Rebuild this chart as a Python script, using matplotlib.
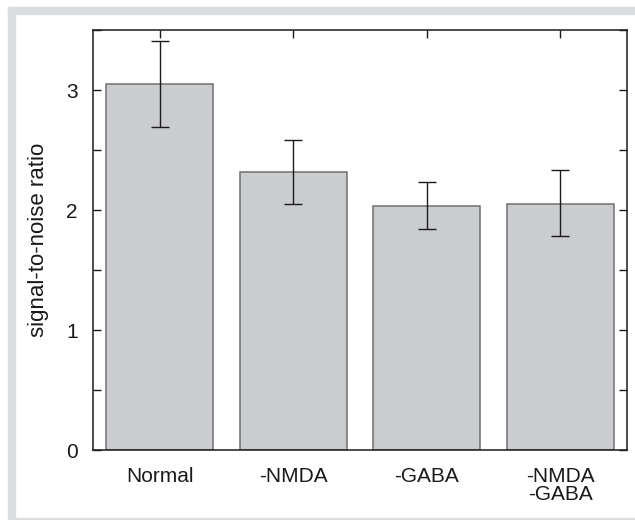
import matplotlib
matplotlib.use("Agg")
import matplotlib.pyplot as plt
from matplotlib.patches import Rectangle
from matplotlib.ticker import MultipleLocator

categories = ["Normal", "-NMDA", "-GABA", "-NMDA\n-GABA"]
values = [3.05, 2.32, 2.03, 2.05]
err_low = [0.36, 0.27, 0.19, 0.27]
err_high = [0.36, 0.26, 0.20, 0.28]
ylabel = "signal-to-noise ratio"

plt.rcParams['font.family'] = ['Liberation Sans', 'DejaVu Sans']

W, H = 635, 520
fig = plt.figure(figsize=(W / 100, H / 100), dpi=100)

# light gray frame strips
gray = "#dcdddf"
fig.patches.append(Rectangle((8 / W, 0), 7 / W, 513 / H, transform=fig.transFigure, color=gray, zorder=0))
fig.patches.append(Rectangle((8 / W, 506 / H), 627 / W, 7 / H, transform=fig.transFigure, color=gray, zorder=0))
fig.patches.append(Rectangle((8 / W, 0), 627 / W, 2.5 / H, transform=fig.transFigure, color=gray, zorder=0))

ax = fig.add_axes([93 / W, (H - 450) / H, 534 / W, 420 / H])
x = list(range(len(categories)))
ax.bar(x, values, width=0.8, color="#cbcccf", edgecolor="#707070", linewidth=1.1, zorder=1)
ax.errorbar(x, values, yerr=[err_low, err_high], fmt="none", ecolor="#1a1a1a",
            elinewidth=1.0, capsize=6.5, capthick=1.0, zorder=3)

ax.set_xlim(-0.5, 3.5)
ax.set_ylim(0, 3.5)
ax.set_xticks(x)
ax.set_xticklabels(categories, fontsize=15, linespacing=0.93)
ax.yaxis.set_major_locator(MultipleLocator(1))
ax.yaxis.set_minor_locator(MultipleLocator(0.5))
ax.tick_params(axis="y", which="both", direction="in", length=5.5, width=1.0,
               left=True, right=True, labelsize=15, pad=11, colors="#1a1a1a")
ax.tick_params(axis="x", which="both", direction="in", length=5.5, width=1.0,
               bottom=False, top=True, pad=12, colors="#1a1a1a")
for s in ax.spines.values():
    s.set_linewidth(1.1)
    s.set_color("#1a1a1a")
ax.set_ylabel(ylabel, fontsize=16, labelpad=12, color="#1a1a1a")

fig.savefig("out.png", dpi=100)
